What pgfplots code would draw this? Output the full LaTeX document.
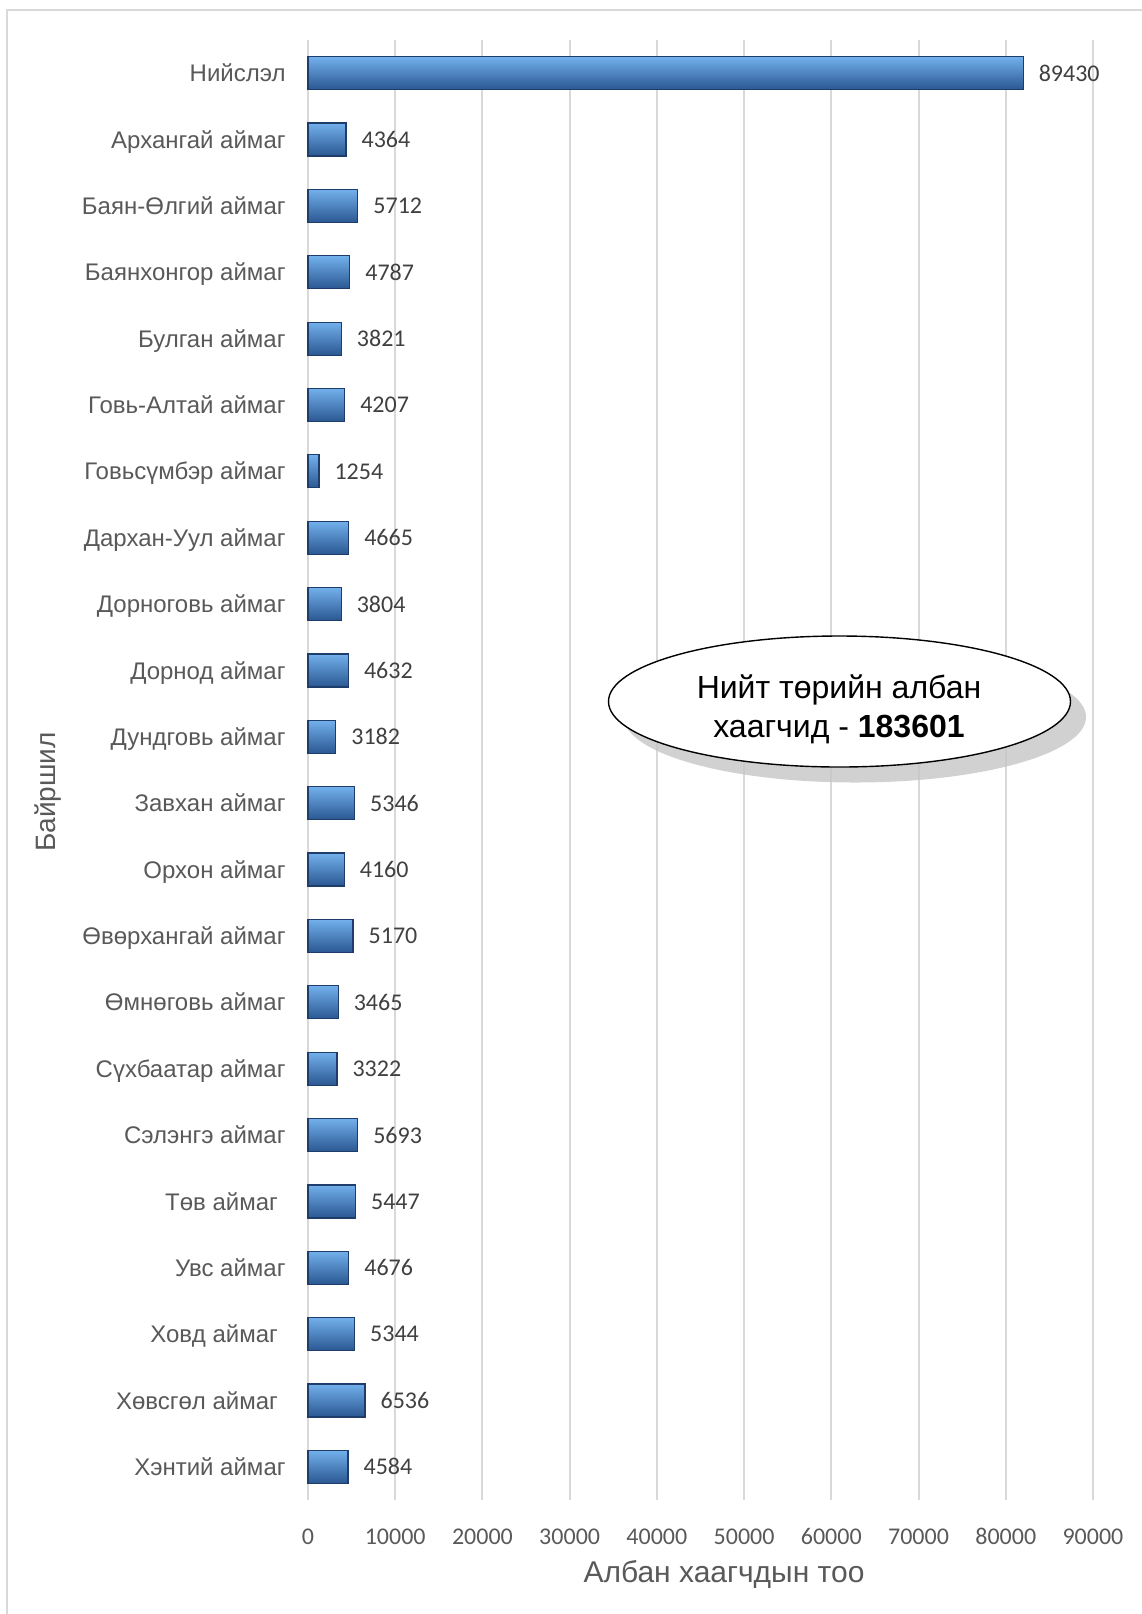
\documentclass[border=0pt]{standalone}
\usepackage{pgfplots}
\pgfplotsset{compat=1.18}
\usepackage{fontspec}
\setmainfont{Liberation Sans}
\newfontfamily\calibri{Carlito}
\definecolor{gridc}{HTML}{D9D9D9}
\definecolor{labc}{HTML}{595959}
\definecolor{dlabc}{HTML}{404040}
\definecolor{bartop}{HTML}{72B0EC}
\definecolor{barmid}{HTML}{4080C8}
\definecolor{barbot}{HTML}{2A5791}
\definecolor{barline}{HTML}{1F3D6A}

\newcommand\onebar[3]{\addplot[xbar, bar width=16.5pt, draw=barline, line width=0.6pt,
  top color=bartop, middle color=barmid, bottom color=barbot,
  point meta=explicit symbolic, nodes near coords={\pgfplotspointmeta}]
  coordinates {(#2,#1) [#3]};}
\newcommand\tsp{\rule{3.8pt}{0pt}}

\begin{document}
\begin{tikzpicture}
\useasboundingbox (0,0) rectangle (571pt,-807pt);
\draw[gridc, line width=1pt] (3.5pt,-810pt) -- (3.5pt,-5pt) -- (575pt,-5pt);
\begin{axis}[
  at={(154pt,-750pt)}, anchor=south west,
  scale only axis, width=392.5pt, height=730pt,
  xmin=0, xmax=90000, ymin=-0.5, ymax=21.5,
  y dir=reverse,
  clip=false,
  axis line style={draw=none},
  major tick length=0pt,
  xtick={0,10000,...,90000},
  scaled x ticks=false,
  xmajorgrids,
  grid style={gridc, line width=1pt},
  /pgf/number format/1000 sep={},
  /pgf/number format/assume math mode=true,
  xticklabel style={font=\calibri\fontsize{12}{14}\selectfont, text=labc, anchor=base, yshift=-22.25pt, inner sep=0pt},
  ytick={0,...,21},
  yticklabels={Нийслэл, Архангай аймаг, Баян-Өлгий аймаг, Баянхонгор аймаг, Булган аймаг, Говь-Алтай аймаг, Говьсүмбэр аймаг, Дархан-Уул аймаг, Дорноговь аймаг, Дорнод аймаг, Дундговь аймаг, Завхан аймаг, Орхон аймаг, Өвөрхангай аймаг, Өмнөговь аймаг, Сүхбаатар аймаг, Сэлэнгэ аймаг, {Төв аймаг\tsp}, Увс аймаг, {Ховд аймаг\tsp}, {Хөвсгөл аймаг\tsp}, Хэнтий аймаг},
  yticklabel style={font=\fontsize{12}{14}\selectfont, text=labc, anchor=base east, inner sep=0pt, xshift=-11pt, yshift=-4.3pt},
  nodes near coords style={font=\calibri\fontsize{12}{14}\selectfont, text=dlabc, anchor=west, inner sep=0pt, xshift=7.5pt},
]
% bar length of the first bar as drawn in the reference; its label gives the value
\onebar{0}{82000}{89430}
\onebar{1}{4364}{4364}
\onebar{2}{5712}{5712}
\onebar{3}{4787}{4787}
\onebar{4}{3821}{3821}
\onebar{5}{4207}{4207}
\onebar{6}{1254}{1254}
\onebar{7}{4665}{4665}
\onebar{8}{3804}{3804}
\onebar{9}{4632}{4632}
\onebar{10}{3182}{3182}
\onebar{11}{5346}{5346}
\onebar{12}{4160}{4160}
\onebar{13}{5170}{5170}
\onebar{14}{3465}{3465}
\onebar{15}{3322}{3322}
\onebar{16}{5693}{5693}
\onebar{17}{5447}{5447}
\onebar{18}{4676}{4676}
\onebar{19}{5344}{5344}
\onebar{20}{6536}{6536}
\onebar{21}{4584}{4584}
\end{axis}
% axis titles
\node[font=\fontsize{15}{17}\selectfont, text=labc, anchor=base] at (362pt,-791pt) {Албан хаагчдын тоо};
\node[font=\fontsize{14}{16}\selectfont, text=labc, anchor=base, rotate=90] at (27.5pt,-396pt) {Байршил};
% callout
\fill[gray!45, opacity=0.8] (427.5pt,-358.5pt) ellipse [x radius=115.5pt, y radius=32.75pt];
\draw[black, fill=white, line width=0.7pt] (419.75pt,-350.75pt) ellipse [x radius=115.5pt, y radius=32.75pt];
\node[font=\fontsize{16}{19}\selectfont, anchor=base] at (419.5pt,-349.25pt) {Нийт төрийн албан};
\node[font=\fontsize{16}{19}\selectfont, anchor=base] at (419.5pt,-368.75pt) {хаагчид - \textbf{183601}};
\end{tikzpicture}
\end{document}
